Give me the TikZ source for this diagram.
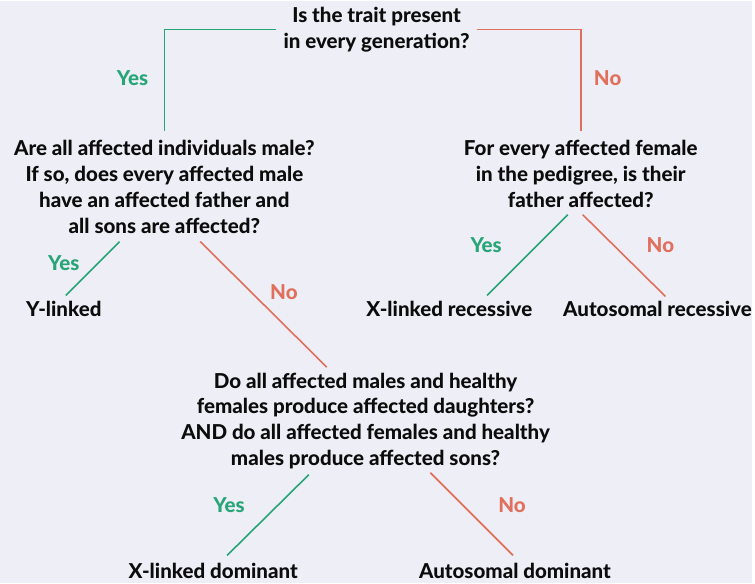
\documentclass[tikz,border=0pt]{standalone}
\usepackage{fontspec}
\setmainfont{Lato}[BoldFont={Lato Heavy}]
\definecolor{bgcol}{HTML}{EEEEF6}
\definecolor{yescol}{HTML}{27A577}
\definecolor{nocol}{HTML}{E0705C}
\definecolor{txtcol}{HTML}{0C0C0C}
\begin{document}
\begin{tikzpicture}[x=1pt, y=-1pt,
  question/.style={align=center, text=txtcol, font=\bfseries\fontsize{20.6}{26}\selectfont, inner sep=7pt},
  leaf/.style={text=txtcol, font=\bfseries\fontsize{20.6}{26}\selectfont},
  yes/.style={text=yescol, font=\bfseries\fontsize{20.6}{26}\selectfont},
  no/.style={text=nocol, font=\bfseries\fontsize{20.6}{26}\selectfont},
  yesline/.style={draw=yescol, line width=1.6pt},
  noline/.style={draw=nocol, line width=1.6pt}]
\fill[bgcol] (0,0) rectangle (755,585);

\node[question] (top) at (378,29) {Is the trait present\\in every generation?};
\node[question, inner sep=9pt] (left) at (165,187) {Are all affected individuals male?\\If so, does every affected male\\have an affected father and\\all sons are affected?};
\node[question, inner sep=9pt] (right) at (583,174) {For every affected female\\in the pedigree, is their\\father affected?};
\node[question] (bottom) at (367,422) {Do all affected males and healthy\\females produce affected daughters?\\AND do all affected females and healthy\\males produce affected sons?};

\node[leaf] (ylink) at (64,310) {Y-linked};
\node[leaf] (xrec) at (451,310) {X-linked recessive};
\node[leaf] (arec) at (660,310) {Autosomal recessive};
\node[leaf] (xdom) at (214,573) {X-linked dominant};
\node[leaf] (adom) at (517,573) {Autosomal dominant};

\node[yes] (y1) at (133,78) {Yes};
\node[no] (n1) at (610,78) {No};
\node[yes] (y2) at (64,264) {Yes};
\node[no] (n2) at (285,293) {No};
\node[yes] (y3) at (488,246) {Yes};
\node[no] (n3) at (663,246) {No};
\node[yes] (y4) at (230,507) {Yes};
\node[no] (n4) at (514,507) {No};

% free ends of the slanted branches
\coordinate (a1) at (120,242); \coordinate (a2) at (66,296);
\coordinate (b1) at (201,242); \coordinate (b2) at (328,368);
\coordinate (c1) at (570,215); \coordinate (c2) at (489,296);
\coordinate (d1) at (585,215); \coordinate (d2) at (668,297);
\coordinate (e1) at (310,476); \coordinate (e2) at (228,557);
\coordinate (f1) at (432,474); \coordinate (f2) at (515,557);

\draw[yesline] (top.west) -| (left.north);
\draw[noline] (top.east) -| (right.north);
\draw[yesline] (a1) -- (a2);
\draw[noline] (b1) -- (b2);
\draw[yesline] (c1) -- (c2);
\draw[noline] (d1) -- (d2);
\draw[yesline] (e1) -- (e2);
\draw[noline] (f1) -- (f2);
\end{tikzpicture}
\end{document}
